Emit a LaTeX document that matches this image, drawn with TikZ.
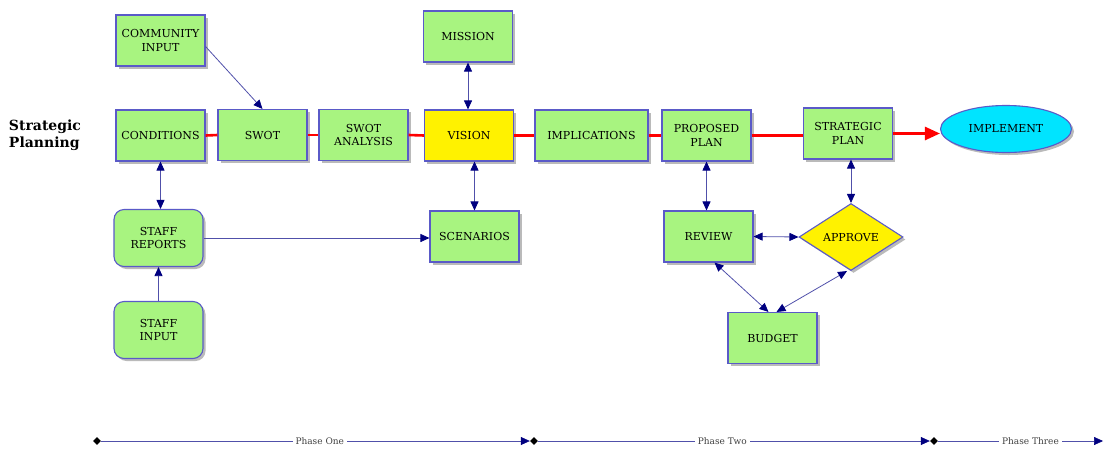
\documentclass[tikz,border=0pt]{standalone}
\usepackage{fontspec}
\setmainfont{DejaVu Serif}
\usetikzlibrary{arrows.meta,positioning,shapes.geometric,shadows}
\definecolor{boxgreen}{RGB}{168,244,128}
\definecolor{boxline}{RGB}{90,90,200}
\definecolor{linkblue}{RGB}{80,80,170}
\definecolor{tipblue}{RGB}{0,0,128}
\definecolor{implcyan}{RGB}{0,228,255}

\begin{document}
\begin{tikzpicture}[x=1pt, y=-1pt,
  >={Triangle[length=9pt, width=8pt, color=tipblue]},
  font=\fontsize{11}{13.5}\selectfont,
  sh/.style={drop shadow={shadow xshift=2.5pt, shadow yshift=-2.5pt, fill=black!45, opacity=.6}},
  box/.style={draw=boxline, line width=1.1pt, fill=boxgreen, sh, align=center,
              minimum width=89pt, minimum height=51pt, inner sep=2pt},
  soft/.style={box, rounded corners=10pt, minimum height=57pt},
  link/.style={draw=linkblue, line width=0.8pt},
  main/.style={draw=red, line width=2.6pt},
  stop/.style={diamond, fill=black, inner sep=0pt, minimum size=8pt},
  phase/.style={fill=white, inner sep=3pt, font=\fontsize{9}{10}\selectfont, text=black!75},
]
  \useasboundingbox (0,0) rectangle (1107,453);

  \node[font=\fontsize{14}{17}\selectfont\bfseries, align=left] (title) at (45,135) {Strategic\\Planning};

  % top row
  \node[box] (comm) at (160.5,40.5) {COMMUNITY\\INPUT};
  \node[box] (conds) at (160.5,135.5) {CONDITIONS};
  \node[box] (swot) at (262.5,135) {SWOT};
  \node[box] (swotan) at (363.5,135) {SWOT\\ANALYSIS};
  \node[box, fill=yellow] (vision) at (469,135.5) {VISION};
  \node[box] (mission) at (468,36.5) {MISSION};
  \node[box, minimum width=113pt] (impl) at (591.5,135.5) {IMPLICATIONS};
  \node[box] (prop) at (706.5,135.5) {PROPOSED\\PLAN};
  \node[box] (strat) at (848,133.5) {STRATEGIC\\PLAN};
  \node[ellipse, draw=boxline, line width=1.1pt, fill=implcyan, sh,
        minimum width=131pt, minimum height=47pt] (implement) at (1006,129) {IMPLEMENT};

  % lower part
  \node[soft] (staffrep) at (158.5,238) {STAFF\\REPORTS};
  \node[soft] (staffin) at (158.5,330) {STAFF\\INPUT};
  \node[box] (scen) at (474.5,236.5) {SCENARIOS};
  \node[box] (review) at (708.5,236.5) {REVIEW};
  \node[diamond, draw=boxline, line width=1.1pt, fill=yellow, sh, aspect=1.55,
        minimum width=104pt, minimum height=67pt, inner sep=0pt] (approve) at (851,237) {APPROVE};
  \node[box] (budget) at (772.5,338) {BUDGET};

  \draw[main] (conds.east) -- (swot.west);
  \draw[main] (swot.east) -- (swotan.west);
  \draw[main] (swotan.east) -- (vision.west);
  \draw[main] (vision.east) -- (impl.west);
  \draw[main] (impl.east) -- (prop.west);
  \draw[main] (prop.east) -- (prop.east -| strat.west);
  \draw[main, -{Triangle[length=15pt, width=13pt]}] (strat.east) -- (strat.east -| implement.west);

  \draw[link, ->] ([yshift=-6pt]comm.east) -- (swot.north);
  \draw[link, <->] (conds.south) -- (conds.south |- staffrep.north);
  \draw[link, ->] (staffin.north) -- (staffrep.south);
  \draw[link, ->] (staffrep.east) -- (staffrep.east -| scen.west);
  \draw[link, <->] (mission.south) -- (mission.south |- vision.north);
  \draw[link, <->] (scen.north |- vision.south) -- (scen.north);
  \draw[link, <->] (prop.south) -- (prop.south |- review.north);
  \draw[link, <->] (approve.north |- strat.south) -- (approve.north);
  \draw[link, <->] (review.east) -- (approve.west);
  \draw[link, <->] ([xshift=6pt]review.south) -- ([xshift=-4pt]budget.north);
  \draw[link, <->] ([xshift=-4pt]approve.south) -- ([xshift=4pt]budget.north);

  % phases
  \node[stop] (p0) at (97,441) {};
  \node[stop] (p1) at (534,441) {};
  \node[stop] (p2) at (934,441) {};
  \coordinate (p3) at (1103,441);
  \draw[link, line width=0.6pt, ->] (p0) -- node[phase, pos=.51]{Phase One} (p1);
  \draw[link, line width=0.6pt, ->] (p1) -- node[phase, pos=.47]{Phase Two} (p2);
  \draw[link, line width=0.6pt, ->] (p2) -- node[phase, pos=.56]{Phase Three} (p3);
\end{tikzpicture}
\end{document}
